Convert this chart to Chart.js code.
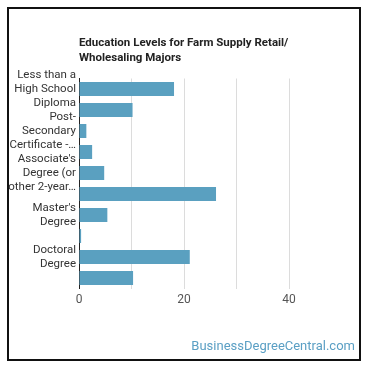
<!DOCTYPE html>
<html>
<head>
<meta charset="utf-8">
<script src="https://cdn.jsdelivr.net/npm/chart.js@4"></script>
<style>
  html, body { margin: 0; padding: 0; background: #fff; }
  #wrap { position: relative; width: 370px; height: 370px; overflow: hidden; }
  #frame { position: absolute; left: 7px; top: 7px; width: 350px; height: 350px; border: 2px solid #111; box-sizing: content-box; }
  #title { position: absolute; left: 79px; top: 35px; font: bold 11.5px Roboto, sans-serif; line-height: 14.5px; color: #222; }
  #wm { position: absolute; right: 15px; top: 338px; font: 13px Roboto, sans-serif; color: #5a9fc4; }
  canvas { position: absolute; left: 0; top: 0; }
</style>
</head>
<body>
<div id="wrap">
  <div id="frame"></div>
  <canvas id="c" width="370" height="370"></canvas>
  <div id="title">Education Levels for Farm Supply Retail/<br>Wholesaling Majors</div>
  <div id="wm">BusinessDegreeCentral.com</div>
</div>
<script>
const categories = [
  ["Less than a", "High School", "Diploma"],
  "High School Diploma",
  ["Post-", "Secondary", "Certificate -…"],
  "Some College Courses",
  ["Associate's", "Degree (or", "other 2-year…"],
  "Bachelor's Degree",
  ["Master's", "Degree"],
  "Post-Master's Certificate",
  ["Doctoral", "Degree"],
  "Post-Doctoral Training"
];
const values = [18.1, 10.2, 1.4, 2.5, 4.8, 26.1, 5.4, 0.4, 21.1, 10.3];
const xTicks = [0, 20, 40];

new Chart(document.getElementById('c'), {
  type: 'bar',
  data: {
    labels: categories,
    datasets: [{
      data: values,
      backgroundColor: 'rgb(90,160,192)',
      borderWidth: 0,
      barPercentage: 0.67,
      categoryPercentage: 1
    }]
  },
  options: {
    indexAxis: 'y',
    responsive: false,
    animation: false,
    layout: { padding: { left: 0, right: 81, top: 78.5, bottom: 61.5 } },
    plugins: { legend: { display: false }, tooltip: { enabled: false } },
    scales: {
      x: {
        min: 0, max: 40,
        ticks: {
          stepSize: 10,
          autoSkip: false,
          maxRotation: 0,
          padding: 4,
          color: '#555',
          font: { family: 'Roboto', size: 12 },
          callback: (v) => xTicks.includes(v) ? String(v) : ''
        },
        grid: { color: '#dcdcdc', drawTicks: false },
        border: { display: false },
        afterFit: (s) => { s.height = 20; }
      },
      y: {
        ticks: {
          autoSkip: false,
          padding: 3,
          color: '#333',
          font: { family: 'Roboto', size: 11.5, lineHeight: 1.2 },
          callback: function (v, i) { return i % 2 === 0 ? this.getLabelForValue(v) : ''; }
        },
        grid: { display: false, drawTicks: false },
        border: { display: true, color: '#222', width: 1 },
        afterFit: (s) => { s.width = 79; }
      }
    }
  }
});
</script>
</body>
</html>
